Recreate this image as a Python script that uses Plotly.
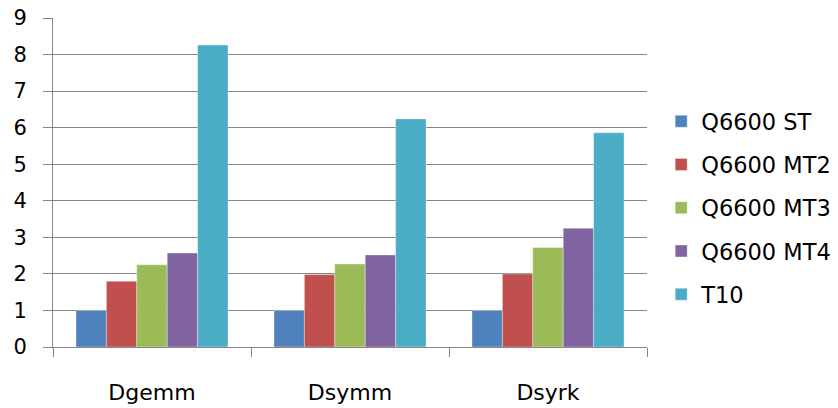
import plotly.graph_objects as go

# Relative speed-up of BLAS level-3 routines per machine configuration
routines = ["Dgemm", "Dsymm", "Dsyrk"]
series_names = ["Q6600 ST", "Q6600 MT2", "Q6600 MT3", "Q6600 MT4", "T10"]
q6600_st = [1.0, 1.0, 1.0]
q6600_mt2 = [1.8, 1.98, 2.0]
q6600_mt3 = [2.25, 2.27, 2.72]
q6600_mt4 = [2.57, 2.52, 3.25]
t10 = [8.26, 6.24, 5.86]
y_ticks = list(range(0, 10))

colors = ["#4F81BD", "#C0504D", "#9BBB59", "#8064A2", "#4BACC6"]
values = [q6600_st, q6600_mt2, q6600_mt3, q6600_mt4, t10]

font_family = "DejaVu Sans, sans-serif"
axis_gray = "#868686"

fig = go.Figure()
for name, vals, col in zip(series_names, values, colors):
    fig.add_trace(go.Bar(
        x=routines, y=vals, name=name, legendgroup=name,
        marker=dict(color=col, line=dict(color="rgba(255,255,255,0.6)", width=0.6)),
    ))

fig.update_layout(
    width=838, height=408,
    margin=dict(l=53, r=191, t=18, b=61),
    paper_bgcolor="white", plot_bgcolor="white",
    barmode="group", bargap=0.232, bargroupgap=0,
    font=dict(family=font_family, size=22, color="black"),
    showlegend=True,
    legend=dict(
        xref="container", yref="container",
        x=0.789, xanchor="left", y=0.49, yanchor="middle",
        font=dict(size=22.5), tracegroupgap=11,
        itemwidth=30, borderwidth=0, maxheight=380,
    ),
)
fig.update_xaxes(
    type="category", tickson="boundaries", automargin=False,
    ticks="outside", ticklen=9, tickcolor=axis_gray, tickwidth=1,
    showline=True, linecolor=axis_gray, linewidth=1,
    showgrid=False, ticklabelstandoff=26,
    tickfont=dict(size=22),
)
fig.update_yaxes(
    range=[0, 9], tickvals=y_ticks, automargin=False,
    ticks="outside", ticklen=9, tickcolor=axis_gray, tickwidth=1,
    showline=True, linecolor=axis_gray, linewidth=1,
    showgrid=True, gridcolor=axis_gray, gridwidth=1,
    zeroline=False, ticklabelstandoff=12,
    tickfont=dict(size=21),
)

fig.write_html("out.html")
